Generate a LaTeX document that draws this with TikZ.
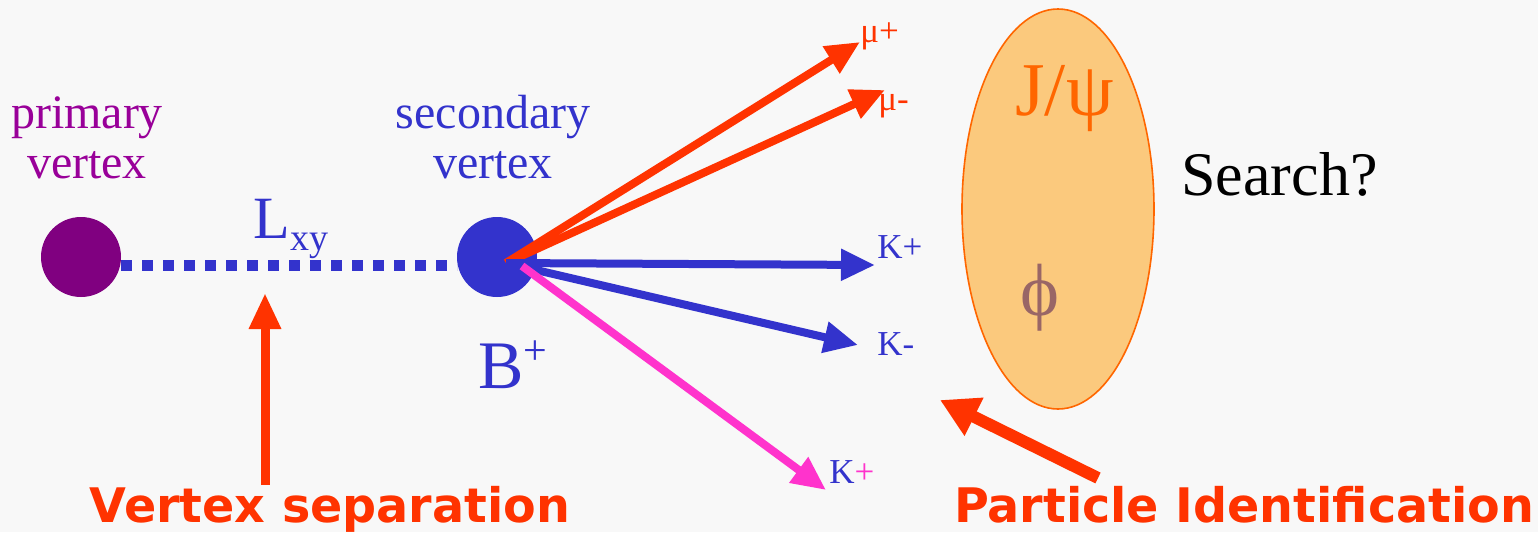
\documentclass[tikz,border=0pt]{standalone}
\usepackage{fontspec}
\setmainfont{Liberation Serif}
\newfontfamily\boldsans{DejaVu Sans}
\usetikzlibrary{arrows.meta}
\definecolor{pv}{HTML}{800080}
\definecolor{pvtext}{HTML}{990099}
\definecolor{sv}{HTML}{3333CC}
\definecolor{redor}{HTML}{FF3300}
\definecolor{pinkk}{HTML}{FF33CC}
\definecolor{ellfill}{HTML}{FBC97D}
\definecolor{ellline}{HTML}{FF6600}
\definecolor{phic}{HTML}{996666}
\definecolor{bgc}{HTML}{F8F8F8}
\tikzset{
  vtx/.style={circle, minimum size=40pt, inner sep=0pt},
  track/.style={line width=4pt, -{Triangle[length=17pt,width=15pt]}},
  bigarrow/.style={line width=5pt, redor, -{Triangle[length=18pt,width=16pt]}},
  lbl/.style={font=\fontsize{17.5}{20}\selectfont, inner sep=0pt},
  vlabel/.style={align=center, font=\fontsize{24}{25}\selectfont, inner sep=0pt},
  caption/.style={font=\boldsans\bfseries\fontsize{23.8}{28}\selectfont, text=redor, inner sep=0pt}
}
\begin{document}
\begin{tikzpicture}[x=0.5pt,y=-0.5pt]
\fill[bgc] (0,0) rectangle (1538,532);
\useasboundingbox (0,0) rectangle (1538,532);
% vertices
\node[vtx, fill=pv] (pv) at (81,257) {};
\node[vtx, fill=sv] (sv) at (497,257) {};
\coordinate (o) at (506,263);
\coordinate (dl) at (121,265);
\coordinate (dr) at (457,265);
\draw[sv, line width=5.5pt, dash pattern=on 5.25pt off 5.25pt] (dl) -- (dr);
% labels
\node[vlabel, text=pvtext, anchor=base] (pvl) at (87,178) {primary\\vertex};
\node[vlabel, text=sv, anchor=base] (svl) at (493,178) {secondary\\vertex};
\node[text=sv, font=\fontsize{30}{34}\selectfont, anchor=base west, inner sep=0pt] (lxy) at (253,238) {L\raisebox{-6pt}{\fontsize{19}{22}\selectfont xy}};
\node[text=sv, font=\fontsize{34}{38}\selectfont, anchor=base west, inner sep=0pt] (bp) at (478,388) {B\raisebox{12pt}{\fontsize{21}{24}\selectfont +}};
% tracks
\coordinate (mup) at (860,42);
\coordinate (mum) at (885,90);
\coordinate (kp) at (875,265);
\coordinate (km) at (858,345);
\coordinate (kp2s) at (522,266);
\coordinate (kp2) at (826,490);
\draw[track, redor] (o) -- (mup);
\draw[track, redor] (o) -- (mum);
\draw[track, sv] (o) -- (kp);
\draw[track, sv] (o) -- (km);
\draw[track, pinkk] (kp2s) -- (kp2);
\node[lbl, text=redor, anchor=base west] (lmup) at (860,42) {μ+};
\node[lbl, text=redor, anchor=base west] (lmum) at (878,110) {μ-};
\node[lbl, text=sv, anchor=base west] (lkp) at (877,258) {K+};
\node[lbl, text=sv, anchor=base west] (lkm) at (877,355) {K-};
\node[lbl, text=sv, anchor=base west] (lkp2) at (829,483) {K\textcolor{pinkk}{+}};
% ellipse
\fill[ellfill] (1058,209) ellipse [x radius=96, y radius=200];
\draw[ellline, line width=0.8pt] (1058,209) ellipse [x radius=96, y radius=200];
\node[text=ellline, font=\fontsize{38}{42}\selectfont, anchor=base west, inner sep=0pt] (jpsi) at (1015,115) {J/ψ};
\node[text=phic, font=\fontsize{37}{40}\selectfont, anchor=base west, inner sep=0pt] (phi) at (1020,315) {ϕ};
\node[font=\fontsize{31}{36}\selectfont, anchor=base west, inner sep=0pt] (search) at (1181,195) {Search?};
% captions and arrows
\node[caption, anchor=base] (vs) at (330,522) {Vertex separation};
\node[caption, anchor=base] (pid) at (1244,522) {Particle Identification};
\coordinate (vsa) at (265,485);
\coordinate (vst) at (265,293);
\draw[bigarrow, line width=4.5pt, -{Triangle[length=18pt,width=15pt]}] (vsa) -- (vst);
\coordinate (pia) at (1098,478);
\coordinate (pit) at (940,400);
\draw[bigarrow, line width=6pt, -{Triangle[length=19pt,width=20pt]}] (pia) -- (pit);
\end{tikzpicture}
\end{document}
